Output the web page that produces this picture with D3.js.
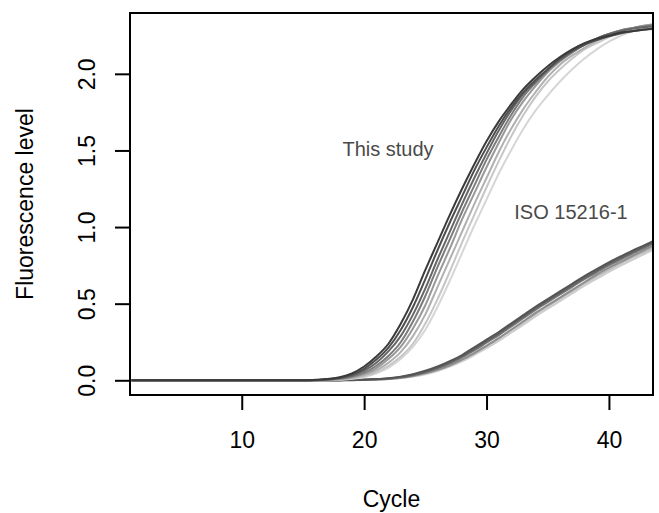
<!DOCTYPE html>
<html>
<head>
<meta charset="utf-8">
<script src="https://cdn.jsdelivr.net/npm/d3@7"></script>
<style>
  html, body { margin: 0; padding: 0; background: #ffffff; }
  svg { display: block; }
  text { font-family: "Liberation Sans", Arial, sans-serif; }
</style>
</head>
<body>
<svg id="chart" width="659" height="513"></svg>
<script>
// ---- data ----
const cycles = [1,2,3,4,5,6,7,8,9,10,11,12,13,14,15,16,17,18,19,20,21,22,23,24,25,26,27,28,29,30,31,32,33,34,35,36,37,38,39,40,41,42,43,44];

const xTicks = [10, 20, 30, 40];
const yTicks = [0.0, 0.5, 1.0, 1.5, 2.0];
const yTickLabels = ["0.0", "0.5", "1.0", "1.5", "2.0"];

// "This study" curves (darkest first)
const study1 = [0,0,0,0,0,0,0,0,0,0,0,0,0,0,0,0.003,0.008,0.02,0.045,0.09,0.155,0.24,0.37,0.53,0.72,0.90,1.08,1.25,1.41,1.56,1.69,1.80,1.90,1.98,2.05,2.11,2.16,2.20,2.23,2.25,2.27,2.28,2.29,2.30];
const study2 = [0,0,0,0,0,0,0,0,0,0,0,0,0,0,0,0.002,0.006,0.016,0.037,0.075,0.135,0.215,0.33,0.48,0.66,0.85,1.03,1.20,1.37,1.52,1.66,1.78,1.88,1.96,2.03,2.10,2.15,2.19,2.22,2.245,2.265,2.28,2.29,2.295];
const study3 = [0,0,0,0,0,0,0,0,0,0,0,0,0,0,0,0.001,0.005,0.013,0.03,0.063,0.115,0.19,0.29,0.43,0.60,0.79,0.97,1.15,1.32,1.48,1.63,1.76,1.87,1.95,2.03,2.09,2.15,2.19,2.23,2.26,2.28,2.295,2.305,2.31];
const study4 = [0,0,0,0,0,0,0,0,0,0,0,0,0,0,0,0.001,0.004,0.011,0.025,0.05,0.095,0.16,0.25,0.385,0.55,0.74,0.92,1.10,1.27,1.44,1.59,1.73,1.85,1.94,2.02,2.09,2.14,2.19,2.23,2.26,2.285,2.30,2.31,2.32];
const study5 = [0,0,0,0,0,0,0,0,0,0,0,0,0,0,0,0.001,0.003,0.009,0.02,0.042,0.08,0.14,0.22,0.34,0.49,0.68,0.86,1.05,1.22,1.39,1.55,1.70,1.82,1.92,2.01,2.08,2.14,2.19,2.23,2.26,2.285,2.30,2.315,2.325];
const study6 = [0,0,0,0,0,0,0,0,0,0,0,0,0,0,0,0,0.002,0.007,0.016,0.034,0.065,0.115,0.185,0.29,0.43,0.61,0.79,0.97,1.15,1.32,1.49,1.64,1.77,1.88,1.98,2.06,2.12,2.17,2.215,2.25,2.28,2.30,2.315,2.325];
const study7 = [0,0,0,0,0,0,0,0,0,0,0,0,0,0,0,0,0.002,0.005,0.012,0.026,0.052,0.095,0.155,0.24,0.37,0.53,0.71,0.90,1.08,1.26,1.43,1.59,1.73,1.85,1.95,2.03,2.10,2.16,2.20,2.24,2.27,2.295,2.31,2.32];
const study8 = [0,0,0,0,0,0,0,0,0,0,0,0,0,0,0,0,0.001,0.004,0.01,0.022,0.045,0.082,0.14,0.22,0.33,0.48,0.65,0.83,1.01,1.18,1.35,1.50,1.64,1.76,1.86,1.95,2.03,2.10,2.16,2.21,2.25,2.28,2.30,2.31];

// "ISO 15216-1" curves (darkest first)
const iso1 = [0,0,0,0,0,0,0,0,0,0,0,0,0,0,0,0,0,0.001,0.002,0.004,0.008,0.014,0.024,0.04,0.062,0.09,0.125,0.165,0.215,0.265,0.315,0.37,0.425,0.48,0.53,0.58,0.63,0.68,0.725,0.77,0.81,0.85,0.885,0.925];
const iso2 = [0,0,0,0,0,0,0,0,0,0,0,0,0,0,0,0,0,0.001,0.002,0.003,0.007,0.012,0.021,0.036,0.056,0.083,0.117,0.157,0.205,0.255,0.305,0.36,0.415,0.47,0.52,0.57,0.62,0.67,0.715,0.76,0.80,0.84,0.877,0.915];
const iso3 = [0,0,0,0,0,0,0,0,0,0,0,0,0,0,0,0,0,0.001,0.002,0.003,0.006,0.011,0.019,0.033,0.052,0.078,0.11,0.15,0.195,0.245,0.295,0.35,0.405,0.46,0.51,0.56,0.61,0.66,0.705,0.75,0.79,0.83,0.868,0.905];
const iso4 = [0,0,0,0,0,0,0,0,0,0,0,0,0,0,0,0,0,0,0.001,0.003,0.005,0.009,0.016,0.028,0.045,0.068,0.098,0.135,0.178,0.225,0.275,0.33,0.385,0.44,0.49,0.54,0.59,0.64,0.69,0.735,0.775,0.815,0.855,0.89];
const iso5 = [0,0,0,0,0,0,0,0,0,0,0,0,0,0,0,0,0,0,0.001,0.002,0.005,0.009,0.016,0.028,0.045,0.068,0.098,0.135,0.178,0.225,0.272,0.325,0.378,0.432,0.482,0.532,0.582,0.632,0.678,0.723,0.765,0.805,0.842,0.88];
const iso6 = [0,0,0,0,0,0,0,0,0,0,0,0,0,0,0,0,0,0,0.001,0.002,0.004,0.008,0.014,0.025,0.04,0.061,0.089,0.124,0.165,0.21,0.257,0.31,0.363,0.417,0.467,0.517,0.567,0.617,0.663,0.708,0.75,0.79,0.828,0.865];

const studySeries = [study1, study2, study3, study4, study5, study6, study7, study8];
const studyColors = ["#3a3a3a", "#4e4e4e", "#666666", "#7c7c7c", "#989898", "#b0b0b0", "#c6c6c6", "#d6d6d6"];
const isoSeries = [iso1, iso2, iso3, iso4, iso5, iso6];
const isoColors = ["#555555", "#626262", "#777777", "#8e8e8e", "#bababa", "#cdcdcd"];

const labels = [
  { text: "This study", cx: 21.95, cy: 1.464 },
  { text: "ISO 15216-1", cx: 36.9, cy: 1.053 }
];

// ---- layout ----
const svg = d3.select("#chart");
const L = 130, R = 653, T = 13, B = 395;

const x = d3.scaleLinear().domain([0.87, 43.6]).range([L, R]);
const y = d3.scaleLinear().domain([-0.096, 2.397]).range([B, T]);

svg.append("defs").append("clipPath").attr("id", "plotclip")
  .append("rect").attr("x", L).attr("y", T).attr("width", R - L).attr("height", B - T);

const line = d3.line()
  .x((d, i) => x(cycles[i]))
  .y(d => y(d))
  .curve(d3.curveMonotoneX);

const g = svg.append("g").attr("clip-path", "url(#plotclip)");

// ISO curves, light first
isoSeries.map((s, i) => ({ s, c: isoColors[i] })).reverse().forEach(o => {
  g.append("path").attr("d", line(o.s)).attr("fill", "none")
    .attr("stroke", o.c).attr("stroke-width", 2);
});
// study curves, light first
studySeries.map((s, i) => ({ s, c: studyColors[i] })).reverse().forEach(o => {
  g.append("path").attr("d", line(o.s)).attr("fill", "none")
    .attr("stroke", o.c).attr("stroke-width", 2);
});

// axes
const xAxis = d3.axisBottom(x).tickValues(xTicks).tickSize(15).tickPadding(22).tickFormat(d3.format("d"));
const xg = svg.append("g").attr("transform", `translate(0,${B})`).call(xAxis);
xg.select(".domain").remove();
xg.selectAll(".tick line").attr("stroke", "#000").attr("stroke-width", 2);
xg.selectAll(".tick text").attr("font-size", 23).attr("fill", "#000")
  .attr("font-family", "Liberation Sans, Arial, sans-serif");

const yAxis = d3.axisLeft(y).tickValues(yTicks).tickSize(15).tickFormat((d, i) => yTickLabels[i]);
const yg = svg.append("g").attr("transform", `translate(${L},0)`).call(yAxis);
yg.select(".domain").remove();
yg.selectAll(".tick line").attr("stroke", "#000").attr("stroke-width", 2);
yg.selectAll(".tick text")
  .attr("font-size", 23).attr("fill", "#000")
  .attr("font-family", "Liberation Sans, Arial, sans-serif")
  .attr("x", null).attr("dy", null)
  .attr("text-anchor", "middle")
  .attr("transform", "translate(-35,0) rotate(-90)");

// box
svg.append("rect").attr("x", L).attr("y", T).attr("width", R - L).attr("height", B - T)
  .attr("fill", "none").attr("stroke", "#000").attr("stroke-width", 2);

// axis titles
svg.append("text").attr("x", (L + R) / 2).attr("y", 507).attr("text-anchor", "middle")
  .attr("font-size", 23).attr("fill", "#000").text("Cycle");
svg.append("text").attr("transform", `translate(33,${(T + B) / 2}) rotate(-90)`)
  .attr("text-anchor", "middle").attr("font-size", 23).attr("fill", "#000").text("Fluorescence level");

// annotations
labels.forEach(l => {
  svg.append("text").attr("x", x(l.cx)).attr("y", y(l.cy)).attr("text-anchor", "middle")
    .attr("font-size", 20).attr("fill", "#4a4a4a").text(l.text);
});
</script>
</body>
</html>
